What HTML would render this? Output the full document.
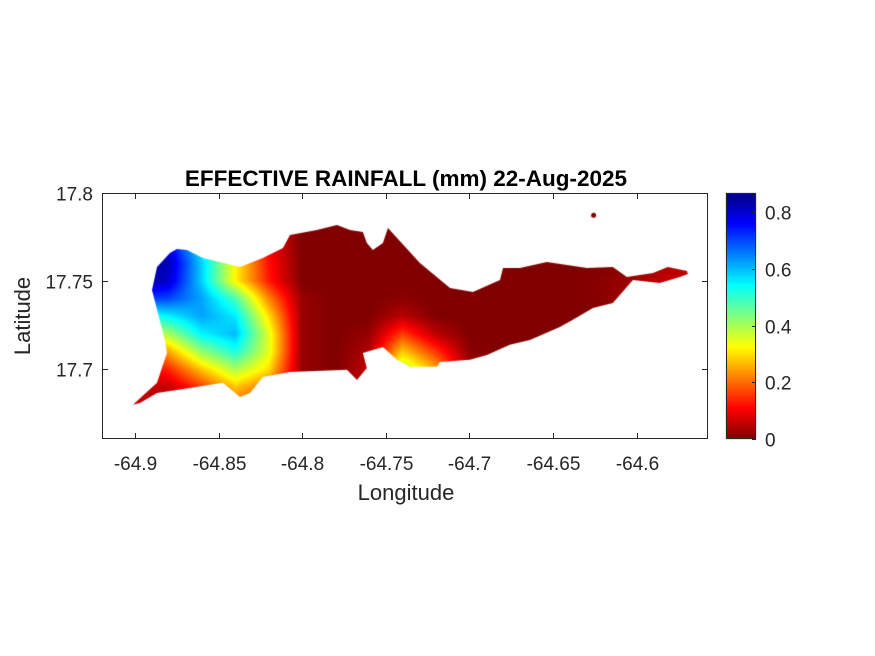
<!DOCTYPE html>
<html><head><meta charset="utf-8"><style>
body{margin:0;background:#fff;}
#wrap{position:relative;width:875px;height:656px;font-family:"Liberation Sans",Arial,sans-serif;color:#262626;}
canvas{position:absolute;left:0;top:0;}
</style></head><body>
<div id="wrap">
<canvas id="heat" width="875" height="656"></canvas>
<svg id="svg" width="875" height="656" style="position:absolute;left:0;top:0"></svg>
</div>
<script>
// ---- data ----
const lons = [-64.90,-64.88,-64.86,-64.84,-64.82,-64.80,-64.78,-64.76,-64.74,-64.72,-64.70,-64.68,-64.66,-64.64,-64.62,-64.60,-64.58,-64.56];
const lats = [17.78,17.77,17.76,17.75,17.74,17.73,17.72,17.71,17.70,17.69,17.68,17.67];
const rain = [
[0.80,0.80,0.60,0.30,0.10,0,0,0,0,0,0,0,0,0,0,0,0,0],
[0.82,0.78,0.55,0.30,0.10,0,0,0,0,0,0,0,0,0,0,0,0,0],
[0.85,0.82,0.58,0.32,0.12,0,0,0,0,0,0,0,0,0,0,0.01,0.04,0.05],
[0.86,0.80,0.58,0.32,0.13,0,0,0,0,0,0,0,0,0,0.01,0.03,0.06,0.06],
[0.72,0.70,0.62,0.48,0.22,0.02,0,0,0.01,0,0,0,0,0,0.01,0.04,0.06,0.06],
[0.50,0.55,0.62,0.56,0.30,0.02,0,0,0.05,0,0,0,0,0,0,0,0,0],
[0.35,0.40,0.55,0.60,0.35,0.02,0,0.02,0.16,0.05,0,0,0,0,0,0,0,0],
[0.20,0.25,0.42,0.52,0.35,0.02,0,0.04,0.28,0.15,0.01,0,0,0,0,0,0,0],
[0.08,0.14,0.28,0.40,0.30,0.02,0,0.06,0.40,0.25,0.02,0,0,0,0,0,0,0],
[0.05,0.06,0.16,0.28,0.20,0.02,0,0.06,0.40,0.25,0.02,0,0,0,0,0,0,0],
[0.06,0.05,0.10,0.20,0.15,0.01,0,0,0,0,0,0,0,0,0,0,0,0],
[0.08,0.06,0.06,0.10,0.08,0,0,0,0,0,0,0,0,0,0,0,0,0]];
const coastLon = [-64.9012,-64.8868,-64.8809,-64.8821,-64.8898,-64.8868,-64.8791,-64.8749,-64.8689,-64.8593,-64.8372,-64.8235,-64.8115,-64.8073,-64.7912,-64.7792,-64.7714,-64.7637,-64.7613,-64.7577,-64.7517,-64.7487,-64.7296,-64.7116,-64.6979,-64.6817,-64.6799,-64.6698,-64.6536,-64.6297,-64.6142,-64.6058,-64.5902,-64.5813,-64.5699,-64.5693,-64.5741,-64.5861,-64.6022,-64.6100,-64.6142,-64.6261,-64.6381,-64.6459,-64.6638,-64.6758,-64.6895,-64.6997,-64.7176,-64.7194,-64.7355,-64.7433,-64.7517,-64.7637,-64.7613,-64.7672,-64.7732,-64.8073,-64.8235,-64.8312,-64.8372,-64.8474,-64.8749,-64.8868,-64.8970];
const coastLat = [17.6796,17.6921,17.7091,17.7165,17.7449,17.7580,17.7659,17.7682,17.7676,17.7631,17.7580,17.7631,17.7688,17.7761,17.7790,17.7818,17.7790,17.7778,17.7716,17.7676,17.7716,17.7801,17.7602,17.7460,17.7438,17.7506,17.7574,17.7574,17.7608,17.7574,17.7580,17.7523,17.7546,17.7580,17.7557,17.7540,17.7523,17.7489,17.7506,17.7421,17.7375,17.7347,17.7279,17.7239,17.7165,17.7137,17.7080,17.7052,17.7040,17.7012,17.7012,17.7052,17.7125,17.7091,17.7006,17.6938,17.6995,17.6983,17.6955,17.6864,17.6841,17.6921,17.6881,17.6864,17.6807];
const xTicks = [-64.9,-64.85,-64.8,-64.75,-64.7,-64.65,-64.6];
const xTickLabels = ["-64.9","-64.85","-64.8","-64.75","-64.7","-64.65","-64.6"];
const yTicks = [17.7,17.75,17.8];
const yTickLabels = ["17.7","17.75","17.8"];
const cTicks = [0,0.2,0.4,0.6,0.8];
const cTickLabels = ["0","0.2","0.4","0.6","0.8"];
const cMax = 0.867;

// ---- scales ----
const L=102,R=708,T=193,B=439;
const lonMin=-64.9197, lonMax=-64.5573, latMin=17.6602, latMax=17.8;
function xScale(v){return L+(v-lonMin)/(lonMax-lonMin)*(R-L);}
function yScale(v){return B-(v-latMin)/(latMax-latMin)*(B-T);}
function xInv(p){return lonMin+(p-L)/(R-L)*(lonMax-lonMin);}
function yInv(p){return latMin+(B-p)/(B-T)*(latMax-latMin);}
const CB={l:726,r:756,t:193,b:439};
function cScale(v){return CB.b-v/cMax*(CB.b-CB.t);}
function jetR(t){t=1-Math.max(0,Math.min(1,t));
 function c(x){return Math.max(0,Math.min(1,x));}
 const r=c(1.5-Math.abs(4*t-3)), g=c(1.5-Math.abs(4*t-2)), b=c(1.5-Math.abs(4*t-1));
 return [Math.round(r*255),Math.round(g*255),Math.round(b*255)];}
function sample(lon,lat){
 let fi=(lon-lons[0])/(lons[1]-lons[0]); let fj=(lats[0]-lat)/(lats[0]-lats[1]);
 fi=Math.max(0,Math.min(lons.length-1.0001,fi)); fj=Math.max(0,Math.min(lats.length-1.0001,fj));
 const i=Math.floor(fi),j=Math.floor(fj),a=fi-i,b=fj-j;
 return rain[j][i]*(1-a)*(1-b)+rain[j][i+1]*a*(1-b)+rain[j+1][i]*(1-a)*b+rain[j+1][i+1]*a*b;}

// ---- heatmap ----
const cv=document.getElementById('heat'),ctx=cv.getContext('2d');
const img=ctx.createImageData(R-L,B-T);
for(let py=0;py<B-T;py++)for(let px=0;px<R-L;px++){
 const v=sample(xInv(L+px+0.5),yInv(T+py+0.5));const col=jetR(v/cMax);const k=(py*(R-L)+px)*4;
 img.data[k]=col[0];img.data[k+1]=col[1];img.data[k+2]=col[2];img.data[k+3]=255;}
const off=document.createElement('canvas');off.width=R-L;off.height=B-T;off.getContext('2d').putImageData(img,0,0);
ctx.save();ctx.beginPath();
coastLon.forEach((lo,i)=>{const x=xScale(lo),y=yScale(coastLat[i]);i?ctx.lineTo(x,y):ctx.moveTo(x,y);});
ctx.closePath();ctx.moveTo(xScale(-64.6257)+3,yScale(17.7873));ctx.arc(xScale(-64.6257),yScale(17.7873),2.5,0,7);
ctx.clip();ctx.drawImage(off,L,T);ctx.restore();
// colorbar
for(let p=CB.t;p<CB.b;p++){const c=jetR((CB.b-p-0.5)/(CB.b-CB.t));ctx.fillStyle=`rgb(${c})`;ctx.fillRect(CB.l,p,CB.r-CB.l,1);}

// ---- axes ----
const svg=document.getElementById('svg');const NS='http://www.w3.org/2000/svg';
function el(tag,attrs,txt){const e=document.createElementNS(NS,tag);for(const k in attrs)e.setAttribute(k,attrs[k]);if(txt!==undefined)e.textContent=txt;svg.appendChild(e);return e;}
let e;
e=el('rect',{x:L+0.5,y:T+0.5,width:R-L-1,height:B-T-1,fill:'none',stroke:'#262626','stroke-width':1});


e=el('rect',{x:CB.l+0.5,y:CB.t+0.5,width:CB.r-CB.l-1,height:CB.b-CB.t-1,fill:'none',stroke:'#262626','stroke-width':1});


xTicks.forEach((v,i)=>{const x=Math.round(xScale(v))+0.5;
 el('line',{x1:x,x2:x,y1:B,y2:B-6,stroke:'#262626'});el('line',{x1:x,x2:x,y1:T,y2:T+6,stroke:'#262626'});
 e=el('text',{x:x,y:B+31,'text-anchor':'middle','font-size':19,fill:'#262626'},xTickLabels[i]);
 
 });
yTicks.forEach((v,i)=>{const y=Math.round(yScale(v))+0.5;
 el('line',{x1:L,x2:L+6,y1:y,y2:y,stroke:'#262626'});el('line',{x1:R,x2:R-6,y1:y,y2:y,stroke:'#262626'});
 e=el('text',{x:L-9,y:y+7,'text-anchor':'end','font-size':19,fill:'#262626'},yTickLabels[i]);
 
 });
cTicks.forEach((v,i)=>{const y=Math.round(cScale(v))+0.5;
 el('line',{x1:CB.r-4,x2:CB.r,y1:y,y2:y,stroke:'#262626'});
 e=el('text',{x:CB.r+9,y:y+7,'font-size':19,fill:'#262626'},cTickLabels[i]);
 
 });
e=el('text',{x:406,y:186,'text-anchor':'middle','font-size':22.5,'font-weight':'bold',fill:'#000'},'EFFECTIVE RAINFALL (mm) 22-Aug-2025');


e=el('text',{x:406,y:500,'text-anchor':'middle','font-size':22,fill:'#262626'},'Longitude');


e=el('text',{x:0,y:0,'text-anchor':'middle','font-size':22,fill:'#262626',transform:'translate(30,316) rotate(-90)'},'Latitude');


</script>
</body></html>
